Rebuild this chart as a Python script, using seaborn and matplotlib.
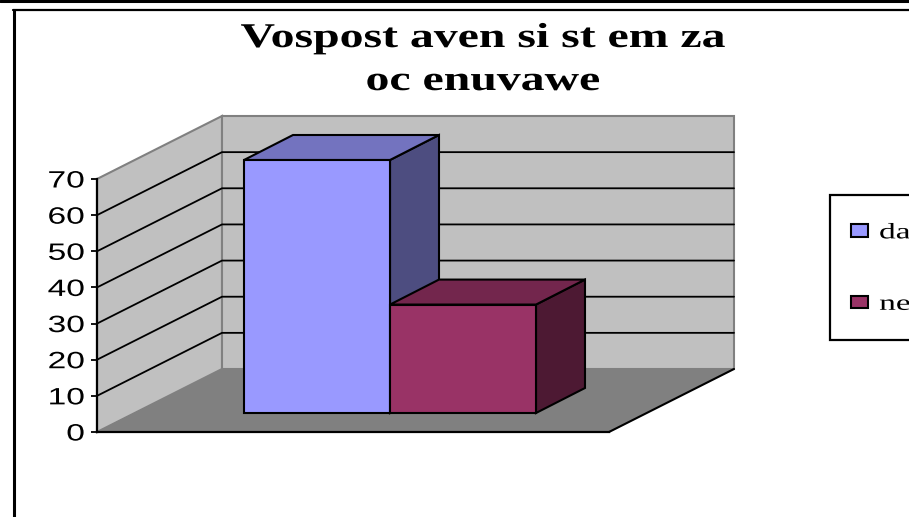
# %%
import matplotlib

matplotlib.use("Agg")
import matplotlib.pyplot as plt
import matplotlib.patheffects as pe
from matplotlib.lines import Line2D
from matplotlib.patches import Rectangle
from matplotlib.transforms import Affine2D
import pandas as pd
import seaborn as sns

# %%
title = "Vospost aven si st em za\noc enuvawe"
category = [""]
series = ["da", "ne"]
values = [70, 30]
yticks = [0, 10, 20, 30, 40, 50, 60, 70]

colors = ["#9999FF", "#993366"]
top_colors = ["#7373BF", "#73264D"]
side_colors = ["#4D4D80", "#4D1933"]

W, H = 909, 517


# %%
# the source picture is stretched sideways, so the text has to be too
class Stretch(pe.AbstractPathEffect):
    def __init__(self, sx, anchor="center"):
        super().__init__()
        self.sx = sx
        self.anchor = anchor

    def draw_path(self, renderer, gc, tpath, affine, rgbFace=None):
        ext = tpath.get_extents()
        x0 = {"left": ext.x0, "center": (ext.x0 + ext.x1) / 2, "right": ext.x1}[
            self.anchor
        ]
        stretch = Affine2D().translate(-x0, 0).scale(self.sx, 1).translate(x0, 0)
        renderer.draw_path(gc, tpath, stretch + affine, rgbFace)


def px_axes(fig, left, top, right, bottom):
    return fig.add_axes(
        [left / W, 1 - bottom / H, (right - left) / W, (bottom - top) / H]
    )


# %%
sns.set_theme(style="white")
plt.rcParams["font.family"] = ["Liberation Sans", "DejaVu Sans"]

fig = plt.figure(figsize=(W / 100, H / 100), dpi=100, facecolor="white")

# frame of the chart area, runs off the picture on the right and bottom
fig.add_artist(Line2D([0, 1], [1 - 1 / H, 1 - 1 / H], color="black", lw=2.2))
fig.add_artist(Line2D([13 / W, 1], [1 - 10 / H, 1 - 10 / H], color="black", lw=1.6))
fig.add_artist(
    Line2D(
        [14 / W, 14 / W],
        [0, 1 - 10 / H],
        color="black",
        lw=2.2,
        solid_capstyle="butt",
    )
)

# %%
# walls and floor, drawn on the front plane (x in pixels, y in axis units)
ax = px_axes(fig, 97, 179, 609, 432)
ax.set_xlim(0, 512)
ax.set_ylim(yticks[0], yticks[-1])
ax.patch.set_visible(False)

depth_x = 125
depth_y = 63 / (253 / 70)
top = yticks[-1]
wall = "#C0C0C0"
edge = "#808080"

ax.fill(
    [0, depth_x, depth_x, 0],
    [0, depth_y, top + depth_y, top],
    facecolor=wall,
    edgecolor=edge,
    lw=1.5,
    clip_on=False,
    zorder=1,
)
ax.fill(
    [depth_x, 512 + depth_x + 0, 512 + depth_x, depth_x],
    [depth_y, depth_y, top + depth_y, top + depth_y],
    facecolor=wall,
    edgecolor=edge,
    lw=1.5,
    clip_on=False,
    zorder=1,
)
ax.fill(
    [0, 512, 512 + depth_x, depth_x],
    [0, 0, depth_y, depth_y],
    facecolor=edge,
    edgecolor="none",
    clip_on=False,
    zorder=1.1,
)
ax.plot([512, 512 + depth_x], [0, depth_y], color="black", lw=1.5, clip_on=False, zorder=1.2)

for tick in yticks[1:-1]:
    ax.plot(
        [0, depth_x, 512 + depth_x],
        [tick, tick + depth_y, tick + depth_y],
        color="black",
        lw=1.3,
        clip_on=False,
        zorder=1.2,
    )

sns.despine(ax=ax, top=True, right=True)
for side in ["left", "bottom"]:
    ax.spines[side].set_color("black")
    ax.spines[side].set_linewidth(1.6)
ax.set_xticks([])
ax.set_yticks(yticks)
ax.tick_params(axis="y", length=4, width=1.3, color="black", pad=5, labelsize=17, left=True)
for label in ax.get_yticklabels():
    label.set_color("black")
    label.set_path_effects([Stretch(1.42, "right")])

# %%
# bars sit further back on the floor, so they get their own axes
bars = pd.DataFrame({"category": category * 2, "series": series, "value": values})
ax_bar = px_axes(fig, 244, 160, 536, 413)
ax_bar.patch.set_visible(False)
sns.barplot(
    data=bars,
    x="category",
    y="value",
    hue="series",
    hue_order=series,
    palette=colors,
    width=1,
    gap=0,
    saturation=1,
    edgecolor="black",
    linewidth=1.5,
    ax=ax_bar,
)
ax_bar.set_xlim(-0.5, 0.5)
ax_bar.set_ylim(0, values[0])
ax_bar.set_axis_off()

bar_dx = 49 / 292
bar_dy = 25 / (253 / 70)
for i, patch in enumerate(ax_bar.patches[:2]):
    x0, x1 = patch.get_x(), patch.get_x() + patch.get_width()
    h = patch.get_height()
    ax_bar.fill(
        [x1, x1 + bar_dx, x1 + bar_dx, x1],
        [0, bar_dy, h + bar_dy, h],
        facecolor=side_colors[i],
        edgecolor="black",
        lw=1.5,
        clip_on=False,
        zorder=2 + i * 2,
    )
    ax_bar.fill(
        [x0, x1, x1 + bar_dx, x0 + bar_dx],
        [h, h, h + bar_dy, h + bar_dy],
        facecolor=top_colors[i],
        edgecolor="black",
        lw=1.5,
        clip_on=False,
        zorder=2 + i * 2,
    )
    patch.set_zorder(3 + i * 2)
    patch.set_clip_on(False)

# %%
fig.text(
    483 / W,
    1 - 22 / H,
    title,
    family="Liberation Serif",
    fontweight="bold",
    fontsize=25,
    color="black",
    ha="center",
    va="top",
    linespacing=1.4,
    path_effects=[Stretch(1.375)],
)

# %%
# box goes under the axes so the legend entries stay visible
fig.add_artist(
    Rectangle(
        (830 / W, 1 - 340 / H),
        100 / W,
        145 / H,
        transform=fig.transFigure,
        facecolor="white",
        edgecolor="black",
        lw=1.6,
        clip_on=False,
        zorder=-1,
    )
)
legend = ax_bar.legend(
    loc="center left",
    bbox_to_anchor=(851 / W, 1 - 269.5 / H),
    bbox_transform=fig.transFigure,
    frameon=False,
    title=None,
    prop={"family": "Liberation Serif", "size": 16},
    borderpad=0,
    borderaxespad=0,
    handlelength=0.78,
    handleheight=0.5,
    handletextpad=0.5,
    labelspacing=2.35,
)
legend.set_zorder(10)
for text in legend.get_texts():
    text.set_color("black")
    text.set_path_effects([Stretch(1.5, "left")])

plt.savefig("out.png", dpi=100)
